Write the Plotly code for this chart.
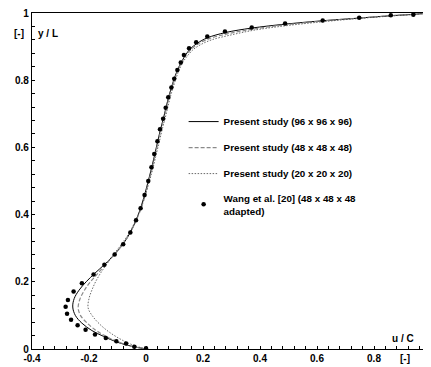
import plotly.graph_objects as go

# Present study (96 x 96 x 96) - solid
s96_x = [0, -0.05, -0.10, -0.15, -0.19, -0.225, -0.248, -0.257, -0.252, -0.235, -0.21, -0.18, -0.145, -0.11,
         -0.08, -0.055, -0.035, -0.019, -0.005, 0.008, 0.02, 0.031, 0.041, 0.051, 0.061, 0.07, 0.079, 0.089,
         0.099, 0.11, 0.123, 0.138, 0.155, 0.18, 0.215, 0.28, 0.37, 0.49, 0.62, 0.75, 0.86, 0.94, 1.0]
s96_y = [0, 0.008, 0.02, 0.038, 0.055, 0.077, 0.10, 0.125, 0.15, 0.175, 0.20, 0.225, 0.252, 0.282,
         0.313, 0.347, 0.383, 0.419, 0.458, 0.5, 0.54, 0.58, 0.618, 0.654, 0.686, 0.718, 0.749, 0.778,
         0.805, 0.83, 0.853, 0.874, 0.893, 0.91, 0.926, 0.942, 0.955, 0.967, 0.977, 0.985, 0.992, 0.996, 1.0]

# Present study (48 x 48 x 48) - dashed
s48_x = [0, -0.05, -0.10, -0.145, -0.18, -0.21, -0.23, -0.238, -0.232, -0.218, -0.198, -0.172, -0.142, -0.11,
         -0.08, -0.055, -0.034, -0.017, -0.003, 0.01, 0.022, 0.033, 0.043, 0.053, 0.063, 0.072, 0.081, 0.091,
         0.101, 0.112, 0.125, 0.14, 0.158, 0.183, 0.22, 0.285, 0.375, 0.49, 0.62, 0.75, 0.86, 0.94, 1.0]
s48_y = [0, 0.008, 0.022, 0.04, 0.058, 0.08, 0.10, 0.122, 0.148, 0.172, 0.197, 0.222, 0.252, 0.282,
         0.313, 0.347, 0.383, 0.419, 0.458, 0.5, 0.54, 0.58, 0.618, 0.654, 0.686, 0.718, 0.749, 0.778,
         0.805, 0.83, 0.853, 0.874, 0.892, 0.908, 0.923, 0.938, 0.952, 0.965, 0.976, 0.985, 0.992, 0.996, 1.0]

# Present study (20 x 20 x 20) - dotted
s20_x = [0, -0.04, -0.08, -0.12, -0.155, -0.185, -0.203, -0.2, -0.19, -0.177, -0.16, -0.14, -0.115,
         -0.085, -0.058, -0.036, -0.018, -0.002, 0.012, 0.025, 0.036, 0.047, 0.057, 0.067, 0.076, 0.085, 0.095,
         0.105, 0.116, 0.129, 0.145, 0.164, 0.19, 0.23, 0.30, 0.38, 0.49, 0.62, 0.75, 0.86, 0.94, 1.0]
s20_y = [0, 0.01, 0.025, 0.045, 0.068, 0.095, 0.122, 0.15, 0.175, 0.2, 0.225, 0.25, 0.28,
         0.313, 0.347, 0.383, 0.419, 0.458, 0.5, 0.54, 0.58, 0.618, 0.654, 0.686, 0.718, 0.749, 0.778,
         0.805, 0.83, 0.853, 0.872, 0.89, 0.905, 0.92, 0.935, 0.949, 0.962, 0.974, 0.984, 0.991, 0.996, 1.0]

# Wang et al. [20] (48 x 48 x 48 adapted) - dots
wang_x = [0, -0.041, -0.070, -0.104, -0.141, -0.179, -0.212, -0.240, -0.263, -0.277, -0.282, -0.274,
          -0.254, -0.225, -0.184, -0.146, -0.110, -0.080, -0.055, -0.035, -0.019, -0.005, 0.008, 0.019,
          0.029, 0.040, 0.049, 0.060, 0.069, 0.078, 0.089, 0.099, 0.110, 0.122, 0.133, 0.151, 0.176,
          0.215, 0.277, 0.371, 0.488, 0.620, 0.748, 0.859, 0.938, 0.991]
wang_y = [0.002, 0.007, 0.016, 0.023, 0.033, 0.043, 0.057, 0.071, 0.087, 0.105, 0.126, 0.146,
          0.171, 0.196, 0.222, 0.251, 0.281, 0.312, 0.347, 0.383, 0.419, 0.458, 0.5, 0.541,
          0.580, 0.618, 0.654, 0.685, 0.718, 0.749, 0.778, 0.804, 0.830, 0.853, 0.875, 0.895, 0.913,
          0.930, 0.945, 0.957, 0.969, 0.978, 0.986, 0.993, 0.995, 0.999]

x_ticks = [-0.4, -0.2, 0, 0.2, 0.4, 0.6, 0.8]
x_tick_text = ["-0.4", "-0.2", "0", "0.2", "0.4", "0.6", "0.8"]
y_ticks = [0, 0.2, 0.4, 0.6, 0.8, 1]
y_tick_text = ["0", "0.2", "0.4", "0.6", "0.8", "1"]

FONT = "Liberation Sans, Arial, sans-serif"

fig = go.Figure()
fig.add_trace(go.Scatter(x=s96_x, y=s96_y, mode="lines", line=dict(color="black", width=1, shape="spline"),
                         name="<b>Present study (96 x 96 x 96)</b>", legendgroup="a"))
fig.add_trace(go.Scatter(x=s48_x, y=s48_y, mode="lines",
                         line=dict(color="#8a8a8a", width=1.2, dash="4px,2px", shape="spline"),
                         name="<b>Present study (48 x 48 x 48)</b>", legendgroup="b"))
fig.add_trace(go.Scatter(x=s20_x, y=s20_y, mode="lines",
                         line=dict(color="#444444", width=0.8, dash="1.5px,1.5px", shape="spline"),
                         name="<b>Present study (20 x 20 x 20)</b>", legendgroup="c"))
fig.add_trace(go.Scatter(x=wang_x, y=wang_y, mode="markers", marker=dict(color="black", size=4.5),
                         name="<b>Wang et al. [20] (48 x 48 x 48<br>adapted)</b>", legendgroup="d"))

axis_common = dict(showgrid=False, zeroline=False, showline=True, linecolor="black", linewidth=1.2,
                   ticks="inside", ticklen=3, tickcolor="black", tickwidth=1,
                   ticklabeloverflow="allow",
                   tickfont=dict(family=FONT, size=10, color="black", weight="bold"))

fig.update_xaxes(range=[-0.4, 1.0], tickvals=x_ticks, ticktext=x_tick_text, mirror=True,
                 minor=dict(dtick=0.04, tick0=0, ticks="inside", ticklen=3, tickcolor="black"),
                 **axis_common)
fig.update_yaxes(range=[0, 1], tickvals=y_ticks, ticktext=y_tick_text, mirror=False,
                 minor=dict(dtick=0.04, tick0=0, ticks="inside", ticklen=3, tickcolor="black"),
                 **axis_common)

fig.add_annotation(text="<b>[-]</b>", xref="paper", x=0, xanchor="right", xshift=-6, yref="y", y=0.94,
                   showarrow=False, font=dict(family=FONT, size=10, color="black"))
fig.add_annotation(text="<b>y / L</b>", xref="paper", x=0, xanchor="left", xshift=4, yref="y", y=0.94,
                   showarrow=False, font=dict(family=FONT, size=10, color="black"))
fig.add_annotation(text="<b>u / C</b>", xref="x", x=0.9, yref="y", y=0.03,
                   showarrow=False, font=dict(family=FONT, size=10, color="black"))
fig.add_annotation(text="<b>[-]</b>", xref="x", x=0.91, yref="paper", y=0, yanchor="top", yshift=-2,
                   showarrow=False, font=dict(family=FONT, size=10, color="black"))

# page body has an 8px margin: figure is drawn at (8, 8) in the 431x367 window
fig.update_layout(
    width=423, height=359,
    margin=dict(l=24, r=0, t=5, b=18),
    paper_bgcolor="white", plot_bgcolor="white",
    legend=dict(x=0.38, y=0.72, xanchor="left", yanchor="top", bgcolor="rgba(0,0,0,0)",
                font=dict(family=FONT, size=9.8, color="black"), itemwidth=30,
                tracegroupgap=7, traceorder="grouped"),
    showlegend=True,
)

fig.write_html("out.html")
